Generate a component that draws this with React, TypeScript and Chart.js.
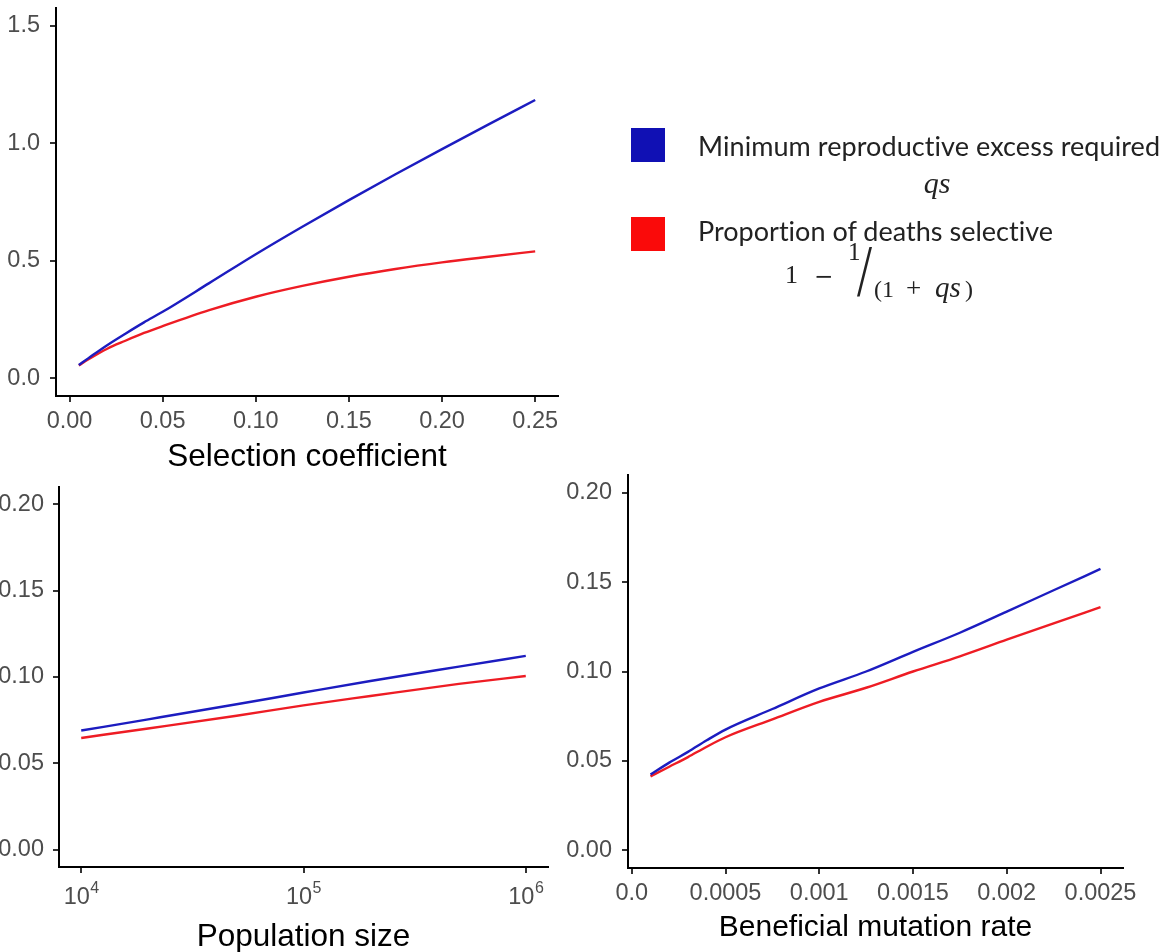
import React, { useEffect, useRef } from "react";
import { Chart, registerables } from "chart.js";

Chart.register(...registerables);

// ---------- data ----------
const seriesNames = ["Minimum reproductive excess required", "Proportion of deaths selective"];

const selCoef = [0.005, 0.01, 0.02, 0.03, 0.04, 0.05, 0.075, 0.1, 0.125, 0.15, 0.175, 0.2, 0.225, 0.25];
const selBlue = [0.057, 0.085, 0.14, 0.19, 0.238, 0.283, 0.405, 0.528, 0.645, 0.758, 0.868, 0.975, 1.08, 1.184];
const selRed = [0.055, 0.08, 0.125, 0.16, 0.193, 0.222, 0.29, 0.347, 0.393, 0.432, 0.465, 0.493, 0.517, 0.54];

const popSize = [1e4, 2e4, 5e4, 1e5, 2e5, 5e5, 1e6];
const popBlue = [0.069, 0.0755, 0.0842, 0.091, 0.0977, 0.106, 0.1122];
const popRed = [0.0647, 0.0702, 0.0776, 0.0836, 0.089, 0.096, 0.1006];

const mutRate = [0.0001, 0.0002, 0.0003, 0.0004, 0.0005, 0.00075, 0.001, 0.00125, 0.0015, 0.00175, 0.002, 0.00225, 0.0025];
const mutBlue = [0.0423, 0.049, 0.055, 0.0615, 0.0675, 0.079, 0.0905, 0.1, 0.111, 0.1217, 0.1335, 0.1455, 0.1574];
const mutRed = [0.0413, 0.0467, 0.0521, 0.0579, 0.0632, 0.0732, 0.083, 0.0909, 0.1, 0.1085, 0.1178, 0.127, 0.136];

const topYTicks = [0, 0.5, 1.0, 1.5];
const topYLabels = ["0.0", "0.5", "1.0", "1.5"];
const topXTicks = [0, 0.05, 0.1, 0.15, 0.2, 0.25];
const topXLabels = ["0.00", "0.05", "0.10", "0.15", "0.20", "0.25"];
const botYTicks = [0, 0.05, 0.1, 0.15, 0.2];
const botYLabels = ["0.00", "0.05", "0.10", "0.15", "0.20"];
const popTicks = [1e4, 1e5, 1e6];
const popLabelBase = "10";
const popLabelExp = ["4", "5", "6"];
const mutTicks = [0, 0.0005, 0.001, 0.0015, 0.002, 0.0025];
const mutLabels = ["0.0", "0.0005", "0.001", "0.0015", "0.002", "0.0025"];

// ---------- styles ----------
const BLUE_LINE = "#1c1cc0";
const RED_LINE = "#ee1c24";
const BLUE_KEY = "#1010b4";
const RED_KEY = "#fa0a0a";
const SANS = "'Liberation Sans', Arial, 'DejaVu Sans', sans-serif";
const TICK_COLOR = "#4d4d4d";

type Panel = {
  L: number; T: number; R: number; B: number;
  xType: "linear" | "logarithmic";
  xMin: number; xMax: number; yMin: number; yMax: number;
  xTicks: number[]; xLabels: string[]; xExp?: string[];
  yTicks: number[]; yLabels: string[];
  xs: number[]; blue: number[]; red: number[];
  title: string; titleSize: number; titleCenter: number;
  tickSize: number; yGap: number; xLabelCenter: number;
};

const panels: Panel[] = [
  {
    L: 56, T: 8, R: 558, B: 396, xType: "linear",
    xMin: -0.00725, xMax: 0.26225, yMin: -0.075, yMax: 1.575,
    xTicks: topXTicks, xLabels: topXLabels, yTicks: topYTicks, yLabels: topYLabels,
    xs: selCoef, blue: selBlue, red: selRed,
    title: "Selection coefficient", titleSize: 31.5, titleCenter: 457,
    tickSize: 23.5, yGap: 16, xLabelCenter: 421.7,
  },
  {
    L: 59, T: 487, R: 548, B: 867, xType: "logarithmic",
    xMin: Math.pow(10, 3.9), xMax: Math.pow(10, 6.1), yMin: -0.01, yMax: 0.21,
    xTicks: popTicks, xLabels: popTicks.map(() => popLabelBase), xExp: popLabelExp,
    yTicks: botYTicks, yLabels: botYLabels,
    xs: popSize, blue: popBlue, red: popRed,
    title: "Population size", titleSize: 31.5, titleCenter: 937,
    tickSize: 23.5, yGap: 15, xLabelCenter: 898,
  },
  {
    L: 628, T: 475, R: 1123, B: 868, xType: "linear",
    xMin: -0.00002, xMax: 0.00262, yMin: -0.01, yMax: 0.21,
    xTicks: mutTicks, xLabels: mutLabels, yTicks: botYTicks, yLabels: botYLabels,
    xs: mutRate, blue: mutBlue, red: mutRed,
    title: "Beneficial mutation rate", titleSize: 30, titleCenter: 928.3,
    tickSize: 23.5, yGap: 16, xLabelCenter: 893.3,
  },
];

const Y_W = 80;
const PAD_TOP = 24;
const PAD_R = 44;
const TICK_LEN = 6;

function geom(p: Panel) {
  const xH = Math.round(p.titleCenter - p.B + 0.6 * p.titleSize);
  const left = p.L - Y_W;
  const top = p.T - PAD_TOP;
  const width = p.R - p.L + Y_W + PAD_R;
  const height = p.B - p.T + PAD_TOP + xH;
  return { xH, left, top, width, height };
}

// draws "10" with a raised exponent for the log axis
const powerLabels = {
  id: "powerLabels",
  afterDraw(chart: any, _args: any, opts: any) {
    if (!opts || !opts.exp) return;
    const sx = chart.scales.x;
    const ctx = chart.ctx;
    const size = opts.size as number;
    const expSize = Math.round(size * 0.68);
    ctx.save();
    ctx.fillStyle = TICK_COLOR;
    ctx.textBaseline = "middle";
    ctx.textAlign = "left";
    sx.ticks.forEach((t: any, i: number) => {
      const px = sx.getPixelForValue(t.value);
      ctx.font = `${size}px ${SANS}`;
      const wb = ctx.measureText(opts.base[i]).width;
      ctx.font = `${expSize}px ${SANS}`;
      const we = ctx.measureText(opts.exp[i]).width;
      const x0 = px - (wb + we) / 2;
      ctx.font = `${size}px ${SANS}`;
      ctx.fillText(opts.base[i], x0, opts.center);
      ctx.font = `${expSize}px ${SANS}`;
      ctx.fillText(opts.exp[i], x0 + wb + 0.5, opts.center - size * 0.4);
    });
    ctx.restore();
  },
};

function PanelChart({ p }: { p: Panel }) {
  const ref = useRef<HTMLCanvasElement | null>(null);
  const g = geom(p);
  useEffect(() => {
    if (!ref.current) return;
    const xPad = p.xLabelCenter - p.B - TICK_LEN - 0.6 * p.tickSize;
    const yPad = p.yGap - TICK_LEN;
    const tickFont = { family: SANS, size: p.tickSize };
    const gridOpts = {
      display: true, drawOnChartArea: false, drawTicks: true,
      tickLength: TICK_LEN, color: "#333333", lineWidth: 2,
    };
    const borderOpts = { display: true, color: "#000000", width: 2 };
    const chart = new Chart(ref.current, {
      type: "line",
      data: {
        datasets: [
          {
            label: seriesNames[0],
            data: p.xs.map((x, i) => ({ x, y: p.blue[i] })),
            borderColor: BLUE_LINE, borderWidth: 2.4, pointRadius: 0,
            cubicInterpolationMode: "monotone", fill: false,
          },
          {
            label: seriesNames[1],
            data: p.xs.map((x, i) => ({ x, y: p.red[i] })),
            borderColor: RED_LINE, borderWidth: 2.4, pointRadius: 0,
            cubicInterpolationMode: "monotone", fill: false,
          },
        ],
      },
      options: {
        animation: false,
        responsive: false,
        maintainAspectRatio: false,
        devicePixelRatio: 1,
        events: [],
        layout: { padding: { top: PAD_TOP, right: PAD_R, left: 0, bottom: 0 } },
        plugins: {
          legend: { display: false },
          tooltip: { enabled: false },
          powerLabels: p.xExp
            ? { base: p.xLabels, exp: p.xExp, size: p.tickSize, center: p.xLabelCenter - g.top }
            : {},
        },
        scales: {
          x: {
            type: p.xType,
            bounds: "data",
            min: p.xMin, max: p.xMax,
            afterBuildTicks: (s: any) => { s.ticks = p.xTicks.map((v) => ({ value: v })); },
            afterFit: (s: any) => { s.height = g.xH; s.paddingLeft = 0; s.paddingRight = 0; },
            ticks: {
              display: !p.xExp,
              autoSkip: false, maxRotation: 0, minRotation: 0,
              padding: xPad, font: tickFont, color: TICK_COLOR,
              callback: (_v: any, i: number) => p.xLabels[i],
            },
            grid: gridOpts,
            border: borderOpts,
            title: {
              display: true, text: p.title, color: "#000000",
              font: { family: SANS, size: p.titleSize },
              padding: { top: 0, bottom: 0 },
            },
          },
          y: {
            type: "linear",
            bounds: "data",
            min: p.yMin, max: p.yMax,
            afterBuildTicks: (s: any) => { s.ticks = p.yTicks.map((v) => ({ value: v })); },
            afterFit: (s: any) => { s.width = Y_W; s.paddingTop = 0; s.paddingBottom = 0; },
            ticks: {
              autoSkip: false, padding: yPad, font: tickFont, color: TICK_COLOR,
              callback: (_v: any, i: number) => p.yLabels[i],
            },
            grid: gridOpts,
            border: borderOpts,
          },
        },
      } as any,
      plugins: [powerLabels],
    });
    return () => chart.destroy();
  }, []);
  return (
    <canvas
      ref={ref}
      width={g.width}
      height={g.height}
      style={{ position: "absolute", left: g.left, top: g.top, width: g.width, height: g.height }}
    />
  );
}

function Legend() {
  const textFont = "Lato, 'Open Sans', sans-serif";
  const mathFont = "'Liberation Serif', 'DejaVu Serif', serif";
  const noLig = { fontVariantLigatures: "none" } as React.CSSProperties;
  const ink = "#222";
  return (
    <svg
      width={1167}
      height={952}
      style={{ position: "absolute", left: 0, top: 0, pointerEvents: "none" }}
    >
      <rect x={631} y={128} width={34} height={34} fill={BLUE_KEY} />
      <rect x={631} y={217} width={34} height={34} fill={RED_KEY} />
      <text x={698} y={156} fontFamily={textFont} fontSize={27} fill={ink} style={noLig}
        textLength={462} lengthAdjust="spacing">{seriesNames[0]}</text>
      <text x={937} y={193} fontFamily={mathFont} fontStyle="italic" fontSize={30}
        fill={ink} textAnchor="middle">qs</text>
      <text x={698} y={241} fontFamily={textFont} fontSize={27} fill={ink} style={noLig}
        textLength={355} lengthAdjust="spacing">{seriesNames[1]}</text>
      {/* 1 − 1/(1 + qs) */}
      <text x={785} y={283} fontFamily={mathFont} fontSize={26} fill={ink}>1</text>
      <text x={814} y={284} fontFamily="'DejaVu Serif', serif" fontSize={23} fill={ink}>{"\u2212"}</text>
      <text x={848} y={260} fontFamily={mathFont} fontSize={25} fill={ink}>1</text>
      <text transform="translate(857,296) scale(0.72,1)" fontFamily={mathFont} fontSize={75}
        fill={ink}>/</text>
      <text x={874} y={297} fontFamily={mathFont} fontSize={24} fill={ink}>(1</text>
      <text x={906} y={297} fontFamily={mathFont} fontSize={27} fill={ink}>+</text>
      <text x={935} y={297} fontFamily={mathFont} fontStyle="italic" fontSize={29} fill={ink}>qs</text>
      <text x={965} y={297} fontFamily={mathFont} fontSize={24} fill={ink}>)</text>
    </svg>
  );
}

export default function App() {
  return (
    <div
      style={{
        position: "absolute", left: 0, top: 0, width: 1167, height: 952,
        overflow: "hidden", background: "#ffffff",
      }}
    >
      {panels.map((p, i) => (
        <PanelChart key={i} p={p} />
      ))}
      <Legend />
    </div>
  );
}
